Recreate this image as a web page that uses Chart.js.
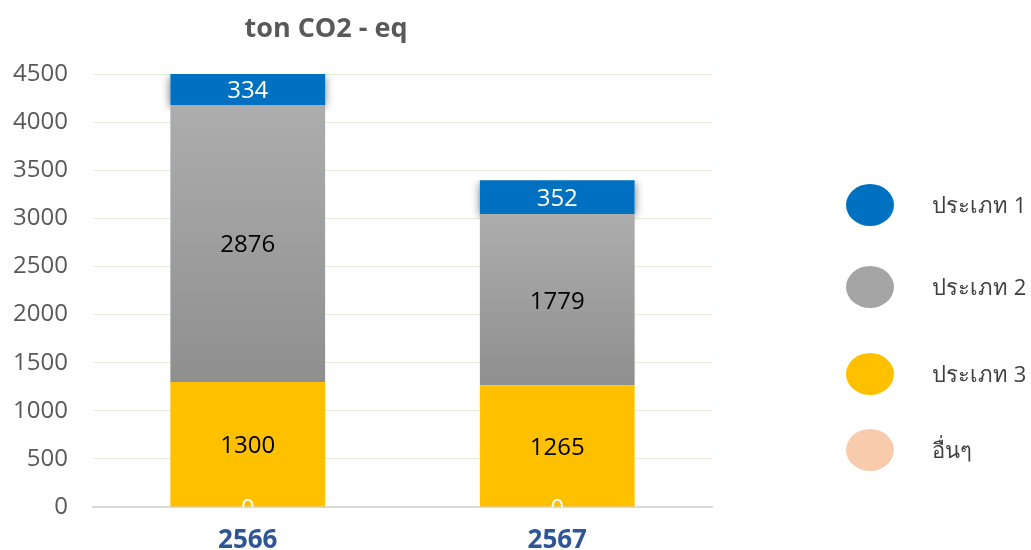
<!DOCTYPE html>
<html>
<head>
<meta charset="utf-8">
<script src="https://cdn.jsdelivr.net/npm/chart.js@4"></script>
<style>
  html, body { margin: 0; padding: 0; background: #fff; }
  #wrap { position: relative; width: 1031px; height: 550px; }
  #legend { position: absolute; left: 846px; top: 0; font-family: "Open Sans", "Noto Sans", sans-serif; }
  .item { position: absolute; left: 0; width: 200px; height: 42px; }
  .dot { position: absolute; left: 0; top: 0; width: 48px; height: 42px; border-radius: 50%; }
  .lbl { position: absolute; left: 86px; top: 4px; font-size: 22px; color: #404040; white-space: nowrap; }
</style>
</head>
<body>
<div id="wrap">
  <canvas id="chart" width="1031" height="550"></canvas>
  <div id="legend"></div>
</div>
<script>
const years = ['2566', '2567'];
const type1 = [334, 352];
const type2 = [2876, 1779];
const type3 = [1300, 1265];
const others = [0, 0];
const legendNames = ['ประเภท 1', 'ประเภท 2', 'ประเภท 3', 'อื่นๆ'];
const legendColors = ['#0070c0', '#a5a5a5', '#ffc000', '#f8cbad'];
const legendTops = [184, 266, 353, 429];

// legend
const lg = document.getElementById('legend');
legendNames.forEach((n, i) => {
  const d = document.createElement('div');
  d.className = 'item';
  d.style.top = legendTops[i] + 'px';
  d.innerHTML = '<div class="dot" style="background:' + legendColors[i] + '"></div><div class="lbl">' + n + '</div>';
  lg.appendChild(d);
});

function grayGradient(ctx) {
  const chart = ctx.chart;
  if (!chart.chartArea) return '#a5a5a5';
  const i = ctx.dataIndex;
  const y = chart.scales.y;
  const lo = others[i] + type3[i];
  const hi = lo + type2[i];
  const g = chart.ctx.createLinearGradient(0, y.getPixelForValue(hi), 0, y.getPixelForValue(lo));
  g.addColorStop(0, '#adadad');
  g.addColorStop(1, '#8f8f8f');
  return g;
}

const shadowPlugin = {
  id: 'barShadow',
  beforeDatasetsDraw(chart) {
    const c = chart.ctx;
    const metas = chart.getSortedVisibleDatasetMetas();
    years.forEach((_, i) => {
      let top = Infinity, base = 0, x = 0, w = 0;
      metas.forEach(m => {
        const el = m.data[i];
        top = Math.min(top, el.y);
        base = el.base; x = el.x; w = el.width;
      });
      top = Math.max(top, chart.chartArea.top);
      c.save();
      c.beginPath();
      c.rect(x - w / 2 - 15, top, w + 30, base - top + 6);
      c.clip();
      c.shadowColor = 'rgba(0,0,0,0.6)';
      c.shadowBlur = 9;
      c.shadowOffsetX = 0;
      c.shadowOffsetY = 2;
      c.fillStyle = '#fff';
      c.fillRect(x - w / 2, top, w, base - top);
      c.restore();
    });
  }
};

const labelPlugin = {
  id: 'segLabels',
  afterDatasetsDraw(chart) {
    const c = chart.ctx;
    const a = chart.chartArea;
    c.save();
    c.beginPath();
    c.rect(a.left, a.top, a.width, a.height);
    c.clip();
    c.font = '24px "Open Sans", "Noto Sans", sans-serif';
    c.textAlign = 'center';
    c.textBaseline = 'middle';
    chart.data.datasets.forEach((ds, di) => {
      const meta = chart.getDatasetMeta(di);
      meta.data.forEach((el, i) => {
        c.fillStyle = ds.labelColor;
        c.fillText(String(ds.data[i]), el.x, (el.y + el.base) / 2 + 2);
      });
    });
    c.restore();
    // title
    c.save();
    c.font = 'bold 27px "Open Sans", "Noto Sans", sans-serif';
    c.fillStyle = '#595959';
    c.textAlign = 'center';
    c.textBaseline = 'middle';
    c.fillText('ton CO2 - eq', 326, 29);
    c.restore();
  }
};

new Chart(document.getElementById('chart'), {
  type: 'bar',
  data: {
    labels: years,
    datasets: [
      { label: 'อื่นๆ', data: others, backgroundColor: '#f8cbad', labelColor: '#ffffff' },
      { label: 'ประเภท 3', data: type3, backgroundColor: '#ffc000', labelColor: '#000000' },
      { label: 'ประเภท 2', data: type2, backgroundColor: grayGradient, labelColor: '#000000' },
      { label: 'ประเภท 1', data: type1, backgroundColor: '#0070c0', labelColor: '#ffffff' }
    ]
  },
  options: {
    responsive: false,
    animation: false,
    events: [],
    layout: { padding: { left: 0, right: 319, top: 74, bottom: 0 } },
    datasets: { bar: { barPercentage: 0.5, categoryPercentage: 1, borderWidth: 0 } },
    plugins: {
      legend: { display: false },
      tooltip: { enabled: false },
      title: { display: false }
    },
    scales: {
      x: {
        stacked: true,
        afterFit: s => { s.height = 43; },
        grid: { display: false },
        border: { display: true, color: '#d9d9d9', width: 2 },
        ticks: {
          color: '#2f5597',
          padding: 10,
          font: { family: '"Open Sans", "Noto Sans", sans-serif', size: 26, weight: 'bold' }
        }
      },
      y: {
        stacked: true,
        min: 0,
        max: 4500,
        afterFit: s => { s.width = 93; },
        grid: { color: '#e2efd9', lineWidth: 1, drawTicks: false },
        border: { display: false },
        ticks: {
          stepSize: 500,
          padding: 25,
          color: '#595959',
          callback: v => String(v),
          font: { family: '"Open Sans", "Noto Sans", sans-serif', size: 24 }
        }
      }
    }
  },
  plugins: [shadowPlugin, labelPlugin]
});
</script>
</body>
</html>
